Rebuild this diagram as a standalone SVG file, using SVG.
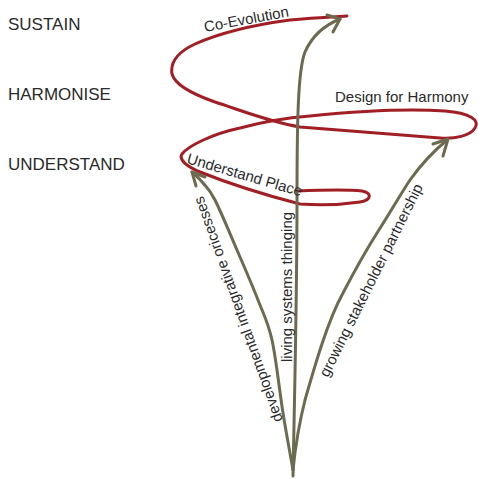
<svg xmlns="http://www.w3.org/2000/svg" width="478" height="479" viewBox="0 0 478 479">
<style>
.lvl{font-family:"Liberation Sans",Arial,sans-serif;font-size:17px;fill:#2a2a2a}
.lbl{font-family:"Liberation Sans",Arial,sans-serif;font-size:15px;fill:#2a2a2a}
.red{fill:none;stroke:#a11f24;stroke-width:3;stroke-linecap:round;stroke-linejoin:round}
.grn{fill:none;stroke:#6d6b4f;stroke-width:3;stroke-linecap:round;stroke-linejoin:round}
</style>
<rect width="478" height="479" fill="#ffffff"/>
<g id="connectors">
<path id="spiral" class="red" d="M297,191 C320,190 345,189 362,191 C372,193 372,200 360,202 C340,205 315,205 300,204 C265,195 225,182 200,172 C188,167 178,160 182,154 C188,146 212,134 240,128 C262,122 285,118 310,116 C350,112 400,108 445,111 C470,113 480,120 475,128 C470,136 455,139 440,138 C400,135 340,130 300,127 C270,122 240,110 215,102 C195,95 175,85 172,74 C170,62 178,52 195,44 C222,32 260,24 290,20 C310,18 330,17 347,16"/>
<path id="arrow-living" class="grn" d="M293,476 C294,420 297,300 297,200 C297,120 298,70 305,52 C312,36 325,25 340,19"/>
<path class="grn" d="M327,15 L340,19 L333,32"/>
<path id="arrow-dev" class="grn" d="M293,470 C289.7,451 286.5,434.7 283,413 C279.5,391.3 276.2,358.8 272,340 C267.8,321.2 263.8,315 258,300 C252.2,285 244.2,266.7 237,250 C229.8,233.3 220.7,211.2 215,200 C209.3,188.8 206.8,187.7 203,183 C199.2,178.3 195.7,175.7 192,172"/>
<path class="grn" d="M196,186 L192,172 L205,177"/>
<path id="arrow-grow" class="grn" d="M293,470 C296,440 300,420 305,400 C315,365 328,320 343,293 C355,270 365,252 377,233 C390,213 400,195 410,180 C420,166 435,150 447,140"/>
<path class="grn" d="M433,144 L448,139 L443,156"/>
</g>
<g id="sustain"><text class="lvl" x="8" y="30">SUSTAIN</text></g>
<g id="harmonise"><text class="lvl" x="8" y="100">HARMONISE</text></g>
<g id="understand"><text class="lvl" x="8" y="170">UNDERSTAND</text></g>
<g id="co-evolution"><text class="lbl" transform="translate(205,32) rotate(-10.5)">Co-Evolution</text></g>
<g id="design-for-harmony"><text class="lbl" x="335" y="102">Design for Harmony</text></g>
<g id="understand-place"><text class="lbl" transform="translate(186,163) rotate(16.3)" font-size="14.5">Understand Place</text></g>
<g id="developmental"><text class="lbl" transform="translate(283,420) rotate(-109.6)">developmental integrative oricesses</text></g>
<g id="living"><text class="lbl" transform="translate(292,362) rotate(-90)">living systems thinging</text></g>
<g id="growing"><text class="lbl" transform="translate(328,378) rotate(-63.5)">growing stakeholder partnership</text></g>
</svg>
